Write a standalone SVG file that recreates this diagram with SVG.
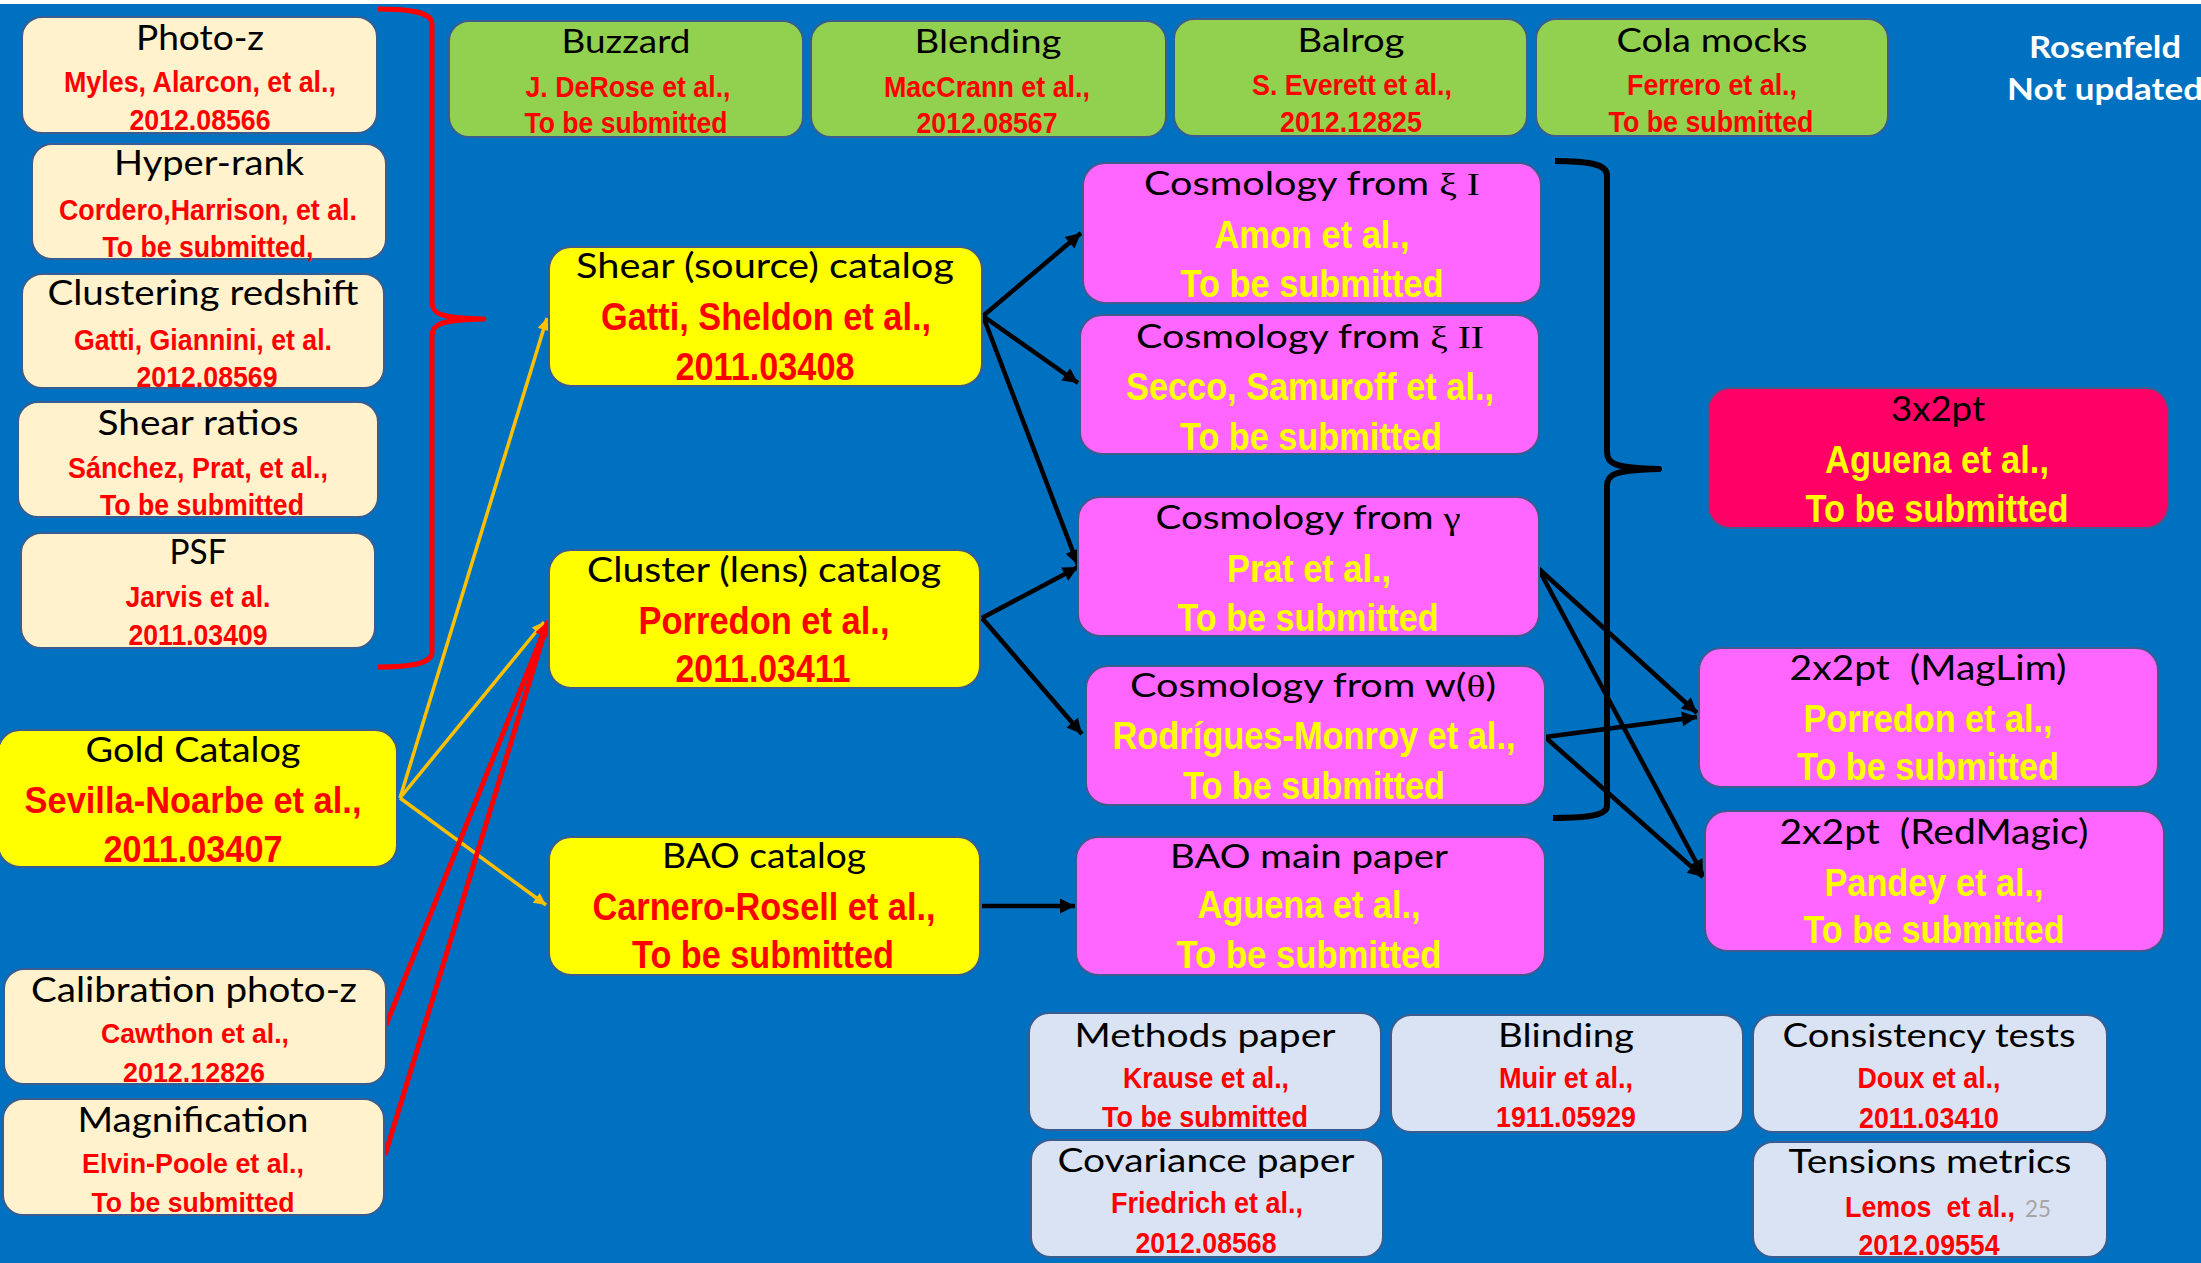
<svg xmlns="http://www.w3.org/2000/svg" width="2201" height="1263" viewBox="0 0 2201 1263">
<defs>
<style>
.box{stroke:#3A5C8F;stroke-width:2}
.cream{fill:#FFF2CC}.yel{fill:#FFFF00}.grn{fill:#92D050}.pink{fill:#FF66FF}.hot{fill:#FF0066}.lb{fill:#DAE3F3}
text{text-anchor:middle}
.t{font-family:Lato,"Open Sans","Liberation Sans",sans-serif;fill:#000}
.r{font-family:"Liberation Sans Narrow","Liberation Sans",Arial,sans-serif;font-weight:bold;fill:#FF0000}
.y{font-family:"Liberation Sans Narrow","Liberation Sans",Arial,sans-serif;font-weight:bold;fill:#FFFF00}
.g{font-family:"Liberation Serif","Times New Roman",serif}
.w{font-family:Lato,"Open Sans","Liberation Sans",sans-serif;font-weight:bold;fill:#FFFFFF}
.blk{stroke:#000;stroke-width:4.5;fill:none}
.org{stroke:#FFC000;stroke-width:3.5;fill:none}
.red{stroke:#FF0000;stroke-width:5;fill:none}
</style>
<marker id="ab" markerUnits="userSpaceOnUse" viewBox="0 0 10 10" refX="10" refY="5" markerWidth="18" markerHeight="15" orient="auto"><path d="M0,0 L10,5 L0,10 z" fill="#000"/></marker>
<marker id="ao" markerUnits="userSpaceOnUse" viewBox="0 0 10 10" refX="10" refY="5" markerWidth="15" markerHeight="12" orient="auto"><path d="M0,0 L10,5 L0,10 z" fill="#FFC000"/></marker>
<marker id="ar" markerUnits="userSpaceOnUse" viewBox="0 0 10 10" refX="10" refY="5" markerWidth="18" markerHeight="15" orient="auto"><path d="M0,0 L10,5 L0,10 z" fill="#FF0000"/></marker>
</defs>
<rect x="0" y="0" width="2201" height="1263" fill="#FFFFFF"/>
<rect x="0" y="4" width="2201" height="1259" fill="#0070C0"/>

<g id="connectors">
<path class="red" stroke-linejoin="round" d="M378,9 C410,9 432,12 432,24 L432,302 C432,314 440,318 484,319 C440,320 432,324 432,336 L432,652 C432,664 410,667 378,667"/>
<path stroke="#000" stroke-width="6" fill="none" stroke-linejoin="round" d="M1555,161 C1588,161 1607,164 1607,175 L1607,452 C1607,464 1615,468 1659,469 C1615,470 1607,474 1607,486 L1607,806 C1607,815 1588,818 1553,818"/>
<line class="org" x1="400" y1="798" x2="547" y2="318" marker-end="url(#ao)"/>
<line class="org" x1="400" y1="798" x2="544" y2="622" marker-end="url(#ao)"/>
<line class="org" x1="400" y1="798" x2="546" y2="905" marker-end="url(#ao)"/>
<line class="red" x1="386" y1="1025" x2="548" y2="621" marker-end="url(#ar)"/>
<line class="red" x1="385" y1="1155" x2="548" y2="621" marker-end="url(#ar)"/>
<line class="blk" x1="983" y1="316" x2="1081" y2="233" marker-end="url(#ab)"/>
<line class="blk" x1="983" y1="316" x2="1078" y2="383" marker-end="url(#ab)"/>
<line class="blk" x1="983" y1="316" x2="1078" y2="565" marker-end="url(#ab)"/>
<line class="blk" x1="982" y1="618" x2="1078" y2="567" marker-end="url(#ab)"/>
<line class="blk" x1="982" y1="618" x2="1082" y2="734" marker-end="url(#ab)"/>
<line class="blk" x1="982" y1="906" x2="1075" y2="906" marker-end="url(#ab)"/>
<line class="blk" x1="1538" y1="568" x2="1697" y2="713" marker-end="url(#ab)"/>
<line class="blk" x1="1538" y1="568" x2="1703" y2="875" marker-end="url(#ab)"/>
<line class="blk" x1="1545" y1="737" x2="1697" y2="717" marker-end="url(#ab)"/>
<line class="blk" x1="1545" y1="737" x2="1703" y2="877" marker-end="url(#ab)"/>
</g>

<g id="photoz"><rect class="box cream" x="22" y="17" width="355" height="116" rx="20"/>
<text class="t" x="200" y="50" font-size="34" textLength="128" lengthAdjust="spacingAndGlyphs">Photo-z</text>
<text class="r" x="200" y="92" font-size="29" textLength="272" lengthAdjust="spacingAndGlyphs">Myles, Alarcon, et al.,</text>
<text class="r" x="200" y="130" font-size="30" textLength="141" lengthAdjust="spacingAndGlyphs">2012.08566</text></g>

<g id="hyperrank"><rect class="box cream" x="32" y="144" width="354" height="115" rx="20"/>
<text class="t" x="209" y="175" font-size="34" textLength="190" lengthAdjust="spacingAndGlyphs">Hyper-rank</text>
<text class="r" x="208" y="220" font-size="29" textLength="298" lengthAdjust="spacingAndGlyphs">Cordero,Harrison, et al.</text>
<text class="r" x="208" y="257" font-size="30" textLength="211" lengthAdjust="spacingAndGlyphs">To be submitted,</text></g>

<g id="clusteringz"><rect class="box cream" x="22" y="274" width="362" height="114" rx="20"/>
<text class="t" x="203" y="305" font-size="34" textLength="311" lengthAdjust="spacingAndGlyphs">Clustering redshift</text>
<text class="r" x="203" y="350" font-size="29" textLength="258" lengthAdjust="spacingAndGlyphs">Gatti, Giannini, et al.</text>
<text class="r" x="207" y="387" font-size="30" textLength="141" lengthAdjust="spacingAndGlyphs">2012.08569</text></g>

<g id="shearratios"><rect class="box cream" x="18" y="402" width="360" height="115" rx="20"/>
<text class="t" x="198" y="435" font-size="34" textLength="201" lengthAdjust="spacingAndGlyphs">Shear ratios</text>
<text class="r" x="198" y="478" font-size="29" textLength="260" lengthAdjust="spacingAndGlyphs">Sánchez, Prat, et al.,</text>
<text class="r" x="202" y="515" font-size="30" textLength="204" lengthAdjust="spacingAndGlyphs">To be submitted</text></g>

<g id="psf"><rect class="box cream" x="21" y="533" width="354" height="115" rx="20"/>
<text class="t" x="198" y="564" font-size="34" textLength="57" lengthAdjust="spacingAndGlyphs">PSF</text>
<text class="r" x="198" y="607" font-size="29" textLength="145" lengthAdjust="spacingAndGlyphs">Jarvis et al.</text>
<text class="r" x="198" y="645" font-size="30" textLength="139" lengthAdjust="spacingAndGlyphs">2011.03409</text></g>

<g id="gold"><rect class="box yel" x="-2" y="730" width="399" height="137" rx="22"/>
<text class="t" x="193" y="762" font-size="35" textLength="215" lengthAdjust="spacingAndGlyphs">Gold Catalog</text>
<text class="r" x="193" y="813" font-size="37" textLength="337" lengthAdjust="spacingAndGlyphs">Sevilla-Noarbe et al.,</text>
<text class="r" x="193" y="862" font-size="37" textLength="179" lengthAdjust="spacingAndGlyphs">2011.03407</text></g>

<g id="calibration"><rect class="box cream" x="4" y="969" width="382" height="115" rx="20"/>
<text class="t" x="194" y="1002" font-size="34" textLength="326" lengthAdjust="spacingAndGlyphs">Calibration photo-z</text>
<text class="r" x="195" y="1043" font-size="28" textLength="188" lengthAdjust="spacingAndGlyphs">Cawthon et al.,</text>
<text class="r" x="194" y="1082" font-size="28" textLength="142" lengthAdjust="spacingAndGlyphs">2012.12826</text></g>

<g id="magnification"><rect class="box cream" x="3" y="1099" width="381" height="116" rx="20"/>
<text class="t" x="193" y="1132" font-size="34" textLength="231" lengthAdjust="spacingAndGlyphs">Magnification</text>
<text class="r" x="193" y="1173" font-size="28" textLength="222" lengthAdjust="spacingAndGlyphs">Elvin-Poole et al.,</text>
<text class="r" x="193" y="1212" font-size="28" textLength="203" lengthAdjust="spacingAndGlyphs">To be submitted</text></g>

<g id="buzzard"><rect class="box grn" x="449" y="21" width="354" height="116" rx="20"/>
<text class="t" x="626" y="53" font-size="33" textLength="129" lengthAdjust="spacingAndGlyphs">Buzzard</text>
<text class="r" x="628" y="97" font-size="30" textLength="205" lengthAdjust="spacingAndGlyphs">J. DeRose et al.,</text>
<text class="r" x="626" y="133" font-size="30" textLength="203" lengthAdjust="spacingAndGlyphs">To be submitted</text></g>

<g id="blending"><rect class="box grn" x="811" y="21" width="355" height="116" rx="20"/>
<text class="t" x="988" y="53" font-size="33" textLength="147" lengthAdjust="spacingAndGlyphs">Blending</text>
<text class="r" x="987" y="97" font-size="30" textLength="206" lengthAdjust="spacingAndGlyphs">MacCrann et al.,</text>
<text class="r" x="987" y="133" font-size="30" textLength="141" lengthAdjust="spacingAndGlyphs">2012.08567</text></g>

<g id="balrog"><rect class="box grn" x="1174" y="19" width="353" height="117" rx="20"/>
<text class="t" x="1351" y="52" font-size="33" textLength="107" lengthAdjust="spacingAndGlyphs">Balrog</text>
<text class="r" x="1352" y="95" font-size="30" textLength="200" lengthAdjust="spacingAndGlyphs">S. Everett et al.,</text>
<text class="r" x="1351" y="132" font-size="30" textLength="142" lengthAdjust="spacingAndGlyphs">2012.12825</text></g>

<g id="cola"><rect class="box grn" x="1536" y="19" width="352" height="117" rx="20"/>
<text class="t" x="1712" y="52" font-size="33" textLength="191" lengthAdjust="spacingAndGlyphs">Cola mocks</text>
<text class="r" x="1712" y="95" font-size="30" textLength="170" lengthAdjust="spacingAndGlyphs">Ferrero et al.,</text>
<text class="r" x="1711" y="132" font-size="30" textLength="205" lengthAdjust="spacingAndGlyphs">To be submitted</text></g>

<g id="rosenfeld">
<text class="w" x="2105" y="58" font-size="30" textLength="152" lengthAdjust="spacingAndGlyphs">Rosenfeld</text>
<text class="w" x="2105" y="100" font-size="30" textLength="196" lengthAdjust="spacingAndGlyphs">Not updated</text></g>

<g id="shear"><rect class="box yel" x="549" y="247" width="433" height="139" rx="22"/>
<text class="t" x="765" y="278" font-size="35" textLength="378" lengthAdjust="spacingAndGlyphs">Shear (source) catalog</text>
<text class="r" x="766" y="330" font-size="39" textLength="330" lengthAdjust="spacingAndGlyphs">Gatti, Sheldon et al.,</text>
<text class="r" x="765" y="380" font-size="39" textLength="179" lengthAdjust="spacingAndGlyphs">2011.03408</text></g>

<g id="cluster"><rect class="box yel" x="549" y="550" width="431" height="138" rx="22"/>
<text class="t" x="764" y="582" font-size="35" textLength="354" lengthAdjust="spacingAndGlyphs">Cluster (lens) catalog</text>
<text class="r" x="764" y="634" font-size="39" textLength="251" lengthAdjust="spacingAndGlyphs">Porredon et al.,</text>
<text class="r" x="763" y="682" font-size="39" textLength="175" lengthAdjust="spacingAndGlyphs">2011.03411</text></g>

<g id="bao"><rect class="box yel" x="549" y="837" width="431" height="138" rx="22"/>
<text class="t" x="764" y="868" font-size="35" textLength="204" lengthAdjust="spacingAndGlyphs">BAO catalog</text>
<text class="r" x="764" y="920" font-size="39" textLength="343" lengthAdjust="spacingAndGlyphs">Carnero-Rosell et al.,</text>
<text class="r" x="763" y="968" font-size="39" textLength="262" lengthAdjust="spacingAndGlyphs">To be submitted</text></g>

<g id="xi1"><rect class="box pink" x="1083" y="163" width="458" height="140" rx="22"/>
<text class="t" x="1312" y="195" font-size="32" textLength="336" lengthAdjust="spacingAndGlyphs">Cosmology from <tspan class="g">ξ I</tspan></text>
<text class="y" x="1312" y="248" font-size="39" textLength="195" lengthAdjust="spacingAndGlyphs">Amon et al.,</text>
<text class="y" x="1312" y="297" font-size="39" textLength="263" lengthAdjust="spacingAndGlyphs">To be submitted</text></g>

<g id="xi2"><rect class="box pink" x="1080" y="315" width="459" height="139" rx="22"/>
<text class="t" x="1310" y="348" font-size="32" textLength="348" lengthAdjust="spacingAndGlyphs">Cosmology from <tspan class="g">ξ II</tspan></text>
<text class="y" x="1310" y="400" font-size="39" textLength="368" lengthAdjust="spacingAndGlyphs">Secco, Samuroff et al.,</text>
<text class="y" x="1311" y="450" font-size="39" textLength="262" lengthAdjust="spacingAndGlyphs">To be submitted</text></g>

<g id="gamma"><rect class="box pink" x="1078" y="497" width="461" height="139" rx="22"/>
<text class="t" x="1308" y="529" font-size="32" textLength="305" lengthAdjust="spacingAndGlyphs">Cosmology from <tspan class="g">γ</tspan></text>
<text class="y" x="1309" y="582" font-size="39" textLength="164" lengthAdjust="spacingAndGlyphs">Prat et al.,</text>
<text class="y" x="1308" y="631" font-size="39" textLength="261" lengthAdjust="spacingAndGlyphs">To be submitted</text></g>

<g id="wtheta"><rect class="box pink" x="1086" y="666" width="459" height="139" rx="22"/>
<text class="t" x="1313" y="697" font-size="32" textLength="366" lengthAdjust="spacingAndGlyphs">Cosmology from w(<tspan class="g">θ</tspan>)</text>
<text class="y" x="1314" y="749" font-size="39" textLength="403" lengthAdjust="spacingAndGlyphs">Rodrígues-Monroy et al.,</text>
<text class="y" x="1314" y="799" font-size="39" textLength="262" lengthAdjust="spacingAndGlyphs">To be submitted</text></g>

<g id="baomain"><rect class="box pink" x="1076" y="837" width="469" height="138" rx="22"/>
<text class="t" x="1309" y="868" font-size="32" textLength="278" lengthAdjust="spacingAndGlyphs">BAO main paper</text>
<text class="y" x="1309" y="918" font-size="39" textLength="223" lengthAdjust="spacingAndGlyphs">Aguena et al.,</text>
<text class="y" x="1309" y="968" font-size="39" textLength="265" lengthAdjust="spacingAndGlyphs">To be submitted</text></g>

<g id="threex2pt"><rect class="box hot" x="1708" y="388" width="460" height="140" rx="22"/>
<text class="t" x="1938" y="421" font-size="34" textLength="94" lengthAdjust="spacingAndGlyphs">3x2pt</text>
<text class="y" x="1937" y="473" font-size="38" textLength="224" lengthAdjust="spacingAndGlyphs">Aguena et al.,</text>
<text class="y" x="1937" y="522" font-size="38" textLength="263" lengthAdjust="spacingAndGlyphs">To be submitted</text></g>

<g id="maglim"><rect class="box pink" x="1699" y="648" width="459" height="139" rx="22"/>
<text class="t" x="1928" y="680" font-size="34" textLength="277" lengthAdjust="spacingAndGlyphs" xml:space="preserve">2x2pt  (MagLim)</text>
<text class="y" x="1928" y="732" font-size="38" textLength="249" lengthAdjust="spacingAndGlyphs">Porredon et al.,</text>
<text class="y" x="1928" y="780" font-size="38" textLength="262" lengthAdjust="spacingAndGlyphs">To be submitted</text></g>

<g id="redmagic"><rect class="box pink" x="1705" y="811" width="459" height="140" rx="22"/>
<text class="t" x="1934" y="844" font-size="34" textLength="309" lengthAdjust="spacingAndGlyphs" xml:space="preserve">2x2pt  (RedMagic)</text>
<text class="y" x="1934" y="896" font-size="38" textLength="219" lengthAdjust="spacingAndGlyphs">Pandey et al.,</text>
<text class="y" x="1934" y="943" font-size="38" textLength="261" lengthAdjust="spacingAndGlyphs">To be submitted</text></g>

<g id="methods"><rect class="box lb" x="1029" y="1013" width="352" height="117" rx="20"/>
<text class="t" x="1205" y="1047" font-size="33" textLength="261" lengthAdjust="spacingAndGlyphs">Methods paper</text>
<text class="r" x="1206" y="1088" font-size="29" textLength="166" lengthAdjust="spacingAndGlyphs">Krause et al.,</text>
<text class="r" x="1205" y="1127" font-size="29" textLength="206" lengthAdjust="spacingAndGlyphs">To be submitted</text></g>

<g id="blinding"><rect class="box lb" x="1391" y="1015" width="352" height="117" rx="20"/>
<text class="t" x="1566" y="1047" font-size="33" textLength="136" lengthAdjust="spacingAndGlyphs">Blinding</text>
<text class="r" x="1566" y="1088" font-size="29" textLength="134" lengthAdjust="spacingAndGlyphs">Muir et al.,</text>
<text class="r" x="1566" y="1127" font-size="29" textLength="140" lengthAdjust="spacingAndGlyphs">1911.05929</text></g>

<g id="consistency"><rect class="box lb" x="1753" y="1015" width="354" height="117" rx="20"/>
<text class="t" x="1929" y="1047" font-size="33" textLength="293" lengthAdjust="spacingAndGlyphs">Consistency tests</text>
<text class="r" x="1929" y="1088" font-size="29" textLength="143" lengthAdjust="spacingAndGlyphs">Doux et al.,</text>
<text class="r" x="1929" y="1128" font-size="29" textLength="140" lengthAdjust="spacingAndGlyphs">2011.03410</text></g>

<g id="covariance"><rect class="box lb" x="1031" y="1140" width="352" height="117" rx="20"/>
<text class="t" x="1206" y="1172" font-size="33" textLength="297" lengthAdjust="spacingAndGlyphs">Covariance paper</text>
<text class="r" x="1207" y="1213" font-size="29" textLength="192" lengthAdjust="spacingAndGlyphs">Friedrich et al.,</text>
<text class="r" x="1206" y="1253" font-size="29" textLength="141" lengthAdjust="spacingAndGlyphs">2012.08568</text></g>

<g id="tensions"><rect class="box lb" x="1753" y="1142" width="354" height="115" rx="20"/>
<text class="t" x="1930" y="1173" font-size="33" textLength="283" lengthAdjust="spacingAndGlyphs">Tensions metrics</text>
<text class="r" x="1845" y="1217" font-size="29" textLength="170" lengthAdjust="spacingAndGlyphs" style="text-anchor:start" xml:space="preserve">Lemos  et al.,</text>
<text x="2025" y="1217" font-size="24" textLength="26" lengthAdjust="spacingAndGlyphs" style="text-anchor:start;font-family:Lato,'Open Sans',sans-serif;fill:#A6A6A6">25</text>
<text class="r" x="1929" y="1255" font-size="29" textLength="141" lengthAdjust="spacingAndGlyphs">2012.09554</text></g>
</svg>
